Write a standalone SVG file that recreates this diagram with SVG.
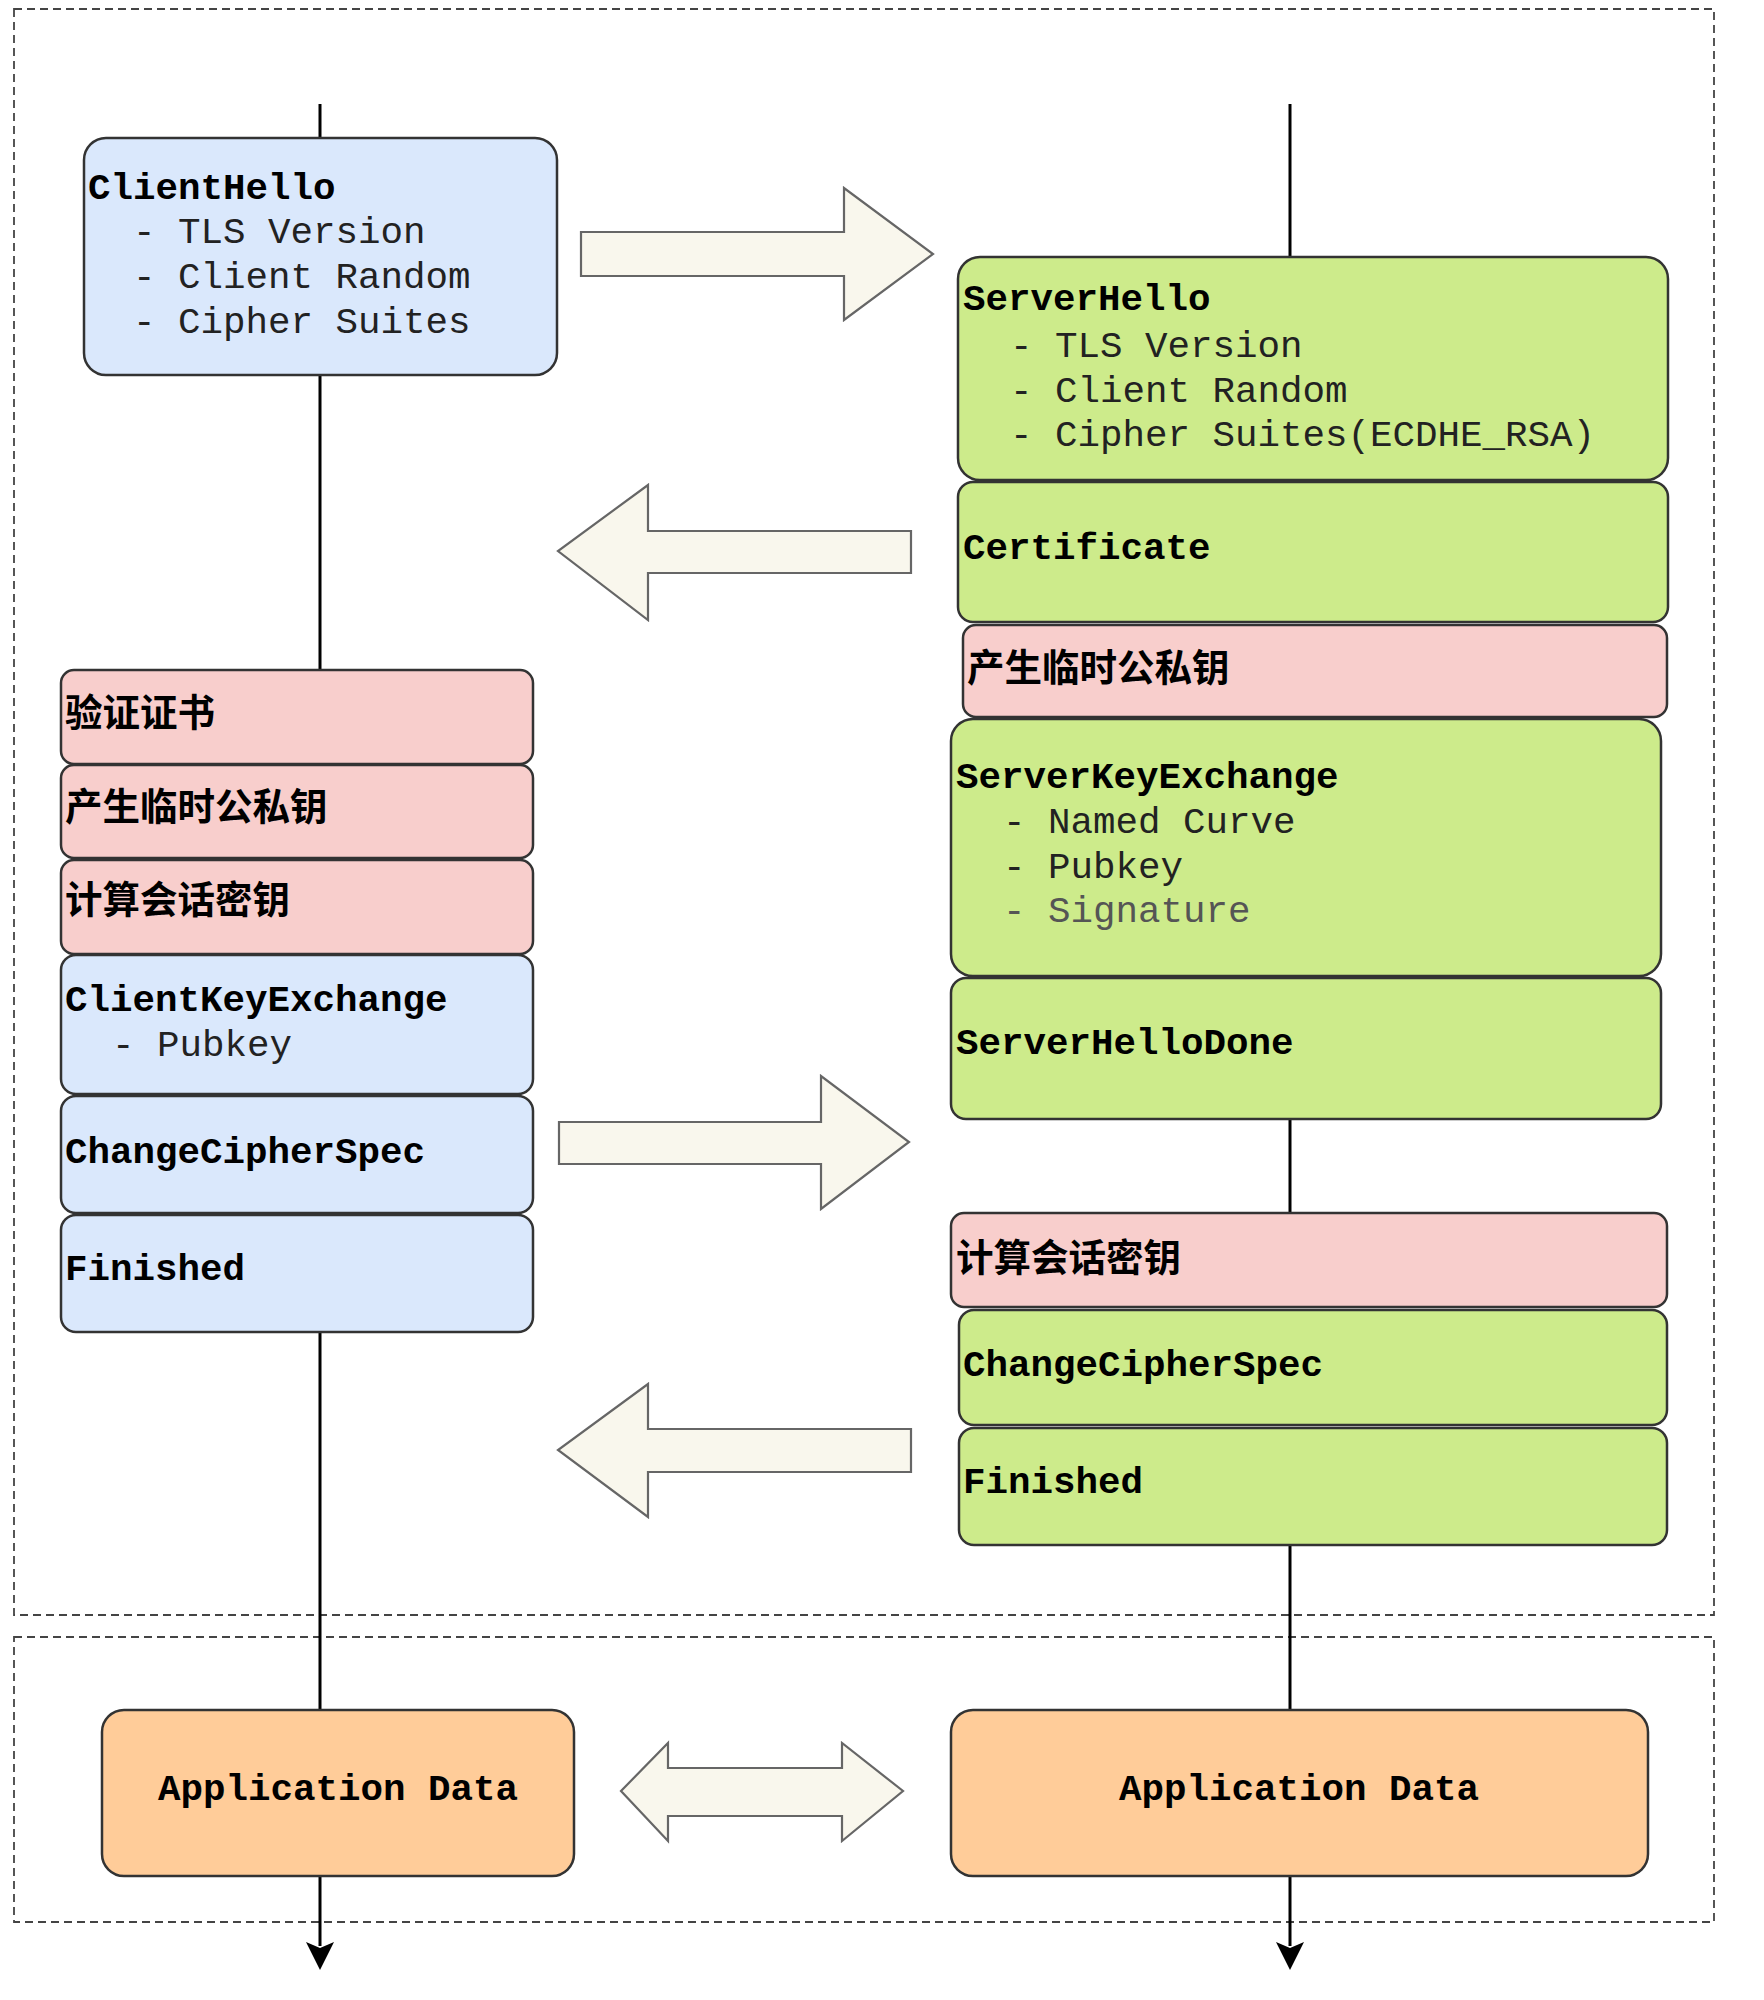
<svg xmlns="http://www.w3.org/2000/svg" width="1764" height="2000" viewBox="0 0 1764 2000">
<style>
.frame{fill:none;stroke:#444;stroke-width:1.8;stroke-dasharray:8 5}
.life{stroke:#000;stroke-width:3;fill:none}
.box{stroke:#333;stroke-width:2.5}
.blue{fill:#dae8fc}
.green{fill:#cdeb8b}
.pink{fill:#f8cecc}
.orange{fill:#ffcc99}
.fat{fill:#f9f7ed;stroke:#666;stroke-width:2.2}
.h{font-family:"Liberation Mono","Courier New",monospace;font-weight:bold;font-size:37.5px;fill:#000}
.s{font-family:"Liberation Mono","Courier New",monospace;font-size:37.5px;fill:#222}
.c{font-family:"Noto Sans CJK SC",sans-serif;font-weight:bold;font-size:37.5px;fill:#000}
</style>
<rect fill="#fff" x="0" y="0" width="1764" height="2000"/>
<g id="frames">
<rect class="frame" x="14" y="9" width="1700" height="1606"/>
<rect class="frame" x="14" y="1637" width="1700" height="285"/>
</g>
<g id="connectors">
<line class="life" x1="320" y1="104" x2="320" y2="140"/>
<line class="life" x1="320" y1="374" x2="320" y2="672"/>
<line class="life" x1="320" y1="1330" x2="320" y2="1712"/>
<line class="life" x1="320" y1="1874" x2="320" y2="1946"/>
<path d="M306,1942 L320,1970 L334,1942 L320,1948 Z" fill="#000"/>
<line class="life" x1="1290" y1="104" x2="1290" y2="259"/>
<line class="life" x1="1290" y1="1117" x2="1290" y2="1215"/>
<line class="life" x1="1290" y1="1543" x2="1290" y2="1712"/>
<line class="life" x1="1290" y1="1874" x2="1290" y2="1946"/>
<path d="M1276,1942 L1290,1970 L1304,1942 L1290,1948 Z" fill="#000"/>
<path class="fat" d="M581,232 L844,232 L844,188 L933,254 L844,320 L844,276 L581,276 Z"/>
<path class="fat" d="M911,531 L648,531 L648,485 L558,551 L648,620 L648,573 L911,573 Z"/>
<path class="fat" d="M559,1122 L821,1122 L821,1076 L909,1142 L821,1209 L821,1164 L559,1164 Z"/>
<path class="fat" d="M911,1429 L648,1429 L648,1384 L558,1450 L648,1517 L648,1472 L911,1472 Z"/>
<path class="fat" d="M621,1791 L668,1743 L668,1768 L842,1768 L842,1743 L903,1791 L842,1841 L842,1816 L668,1816 L668,1841 Z"/>
</g>
<g id="client-hello">
<rect class="box blue" x="84" y="138" width="473" height="237" rx="22"/>
<text class="h" x="88" y="199">ClientHello</text>
<text class="s" x="133" y="243">- TLS Version</text>
<text class="s" x="133" y="288">- Client Random</text>
<text class="s" x="133" y="333">- Cipher Suites</text>
</g>
<g id="verify-cert">
<rect class="box pink" x="61" y="670" width="472" height="94" rx="13"/>
<text class="c" x="65" y="726">验证证书</text>
</g>
<g id="client-gen-key">
<rect class="box pink" x="61" y="765" width="472" height="93" rx="13"/>
<text class="c" x="65" y="820">产生临时公私钥</text>
</g>
<g id="client-session-key">
<rect class="box pink" x="61" y="860" width="472" height="94" rx="13"/>
<text class="c" x="65" y="913">计算会话密钥</text>
</g>
<g id="client-key-exchange">
<rect class="box blue" x="61" y="955" width="472" height="139" rx="15"/>
<text class="h" x="65" y="1011">ClientKeyExchange</text>
<text class="s" x="112" y="1056">- Pubkey</text>
</g>
<g id="client-ccs">
<rect class="box blue" x="61" y="1096" width="472" height="117" rx="15"/>
<text class="h" x="65" y="1163">ChangeCipherSpec</text>
</g>
<g id="client-finished">
<rect class="box blue" x="61" y="1215" width="472" height="117" rx="15"/>
<text class="h" x="65" y="1280">Finished</text>
</g>
<g id="server-hello">
<rect class="box green" x="958" y="257" width="710" height="223" rx="22"/>
<text class="h" x="963" y="310">ServerHello</text>
<text class="s" x="1010" y="357">- TLS Version</text>
<text class="s" x="1010" y="402">- Client Random</text>
<text class="s" x="1010" y="446">- Cipher Suites(ECDHE_RSA)</text>
</g>
<g id="certificate">
<rect class="box green" x="958" y="482" width="710" height="140" rx="15"/>
<text class="h" x="963" y="559">Certificate</text>
</g>
<g id="server-gen-key">
<rect class="box pink" x="963" y="625" width="704" height="92" rx="13"/>
<text class="c" x="967" y="681">产生临时公私钥</text>
</g>
<g id="server-key-exchange">
<rect class="box green" x="951" y="719" width="710" height="257" rx="22"/>
<text class="h" x="956" y="788">ServerKeyExchange</text>
<text class="s" x="1003" y="833">- Named Curve</text>
<text class="s" x="1003" y="878">- Pubkey</text>
<text class="s" x="1003" y="922" style="fill:#555">- Signature</text>
</g>
<g id="server-hello-done">
<rect class="box green" x="951" y="978" width="710" height="141" rx="15"/>
<text class="h" x="956" y="1054">ServerHelloDone</text>
</g>
<g id="server-session-key">
<rect class="box pink" x="951" y="1213" width="716" height="94" rx="13"/>
<text class="c" x="956" y="1271">计算会话密钥</text>
</g>
<g id="server-ccs">
<rect class="box green" x="959" y="1310" width="708" height="115" rx="15"/>
<text class="h" x="963" y="1376">ChangeCipherSpec</text>
</g>
<g id="server-finished">
<rect class="box green" x="959" y="1428" width="708" height="117" rx="15"/>
<text class="h" x="963" y="1493">Finished</text>
</g>
<g id="client-app-data">
<rect class="box orange" x="102" y="1710" width="472" height="166" rx="22"/>
<text class="h" x="338" y="1800" text-anchor="middle">Application Data</text>
</g>
<g id="server-app-data">
<rect class="box orange" x="951" y="1710" width="697" height="166" rx="22"/>
<text class="h" x="1299" y="1800" text-anchor="middle">Application Data</text>
</g>
</svg>
